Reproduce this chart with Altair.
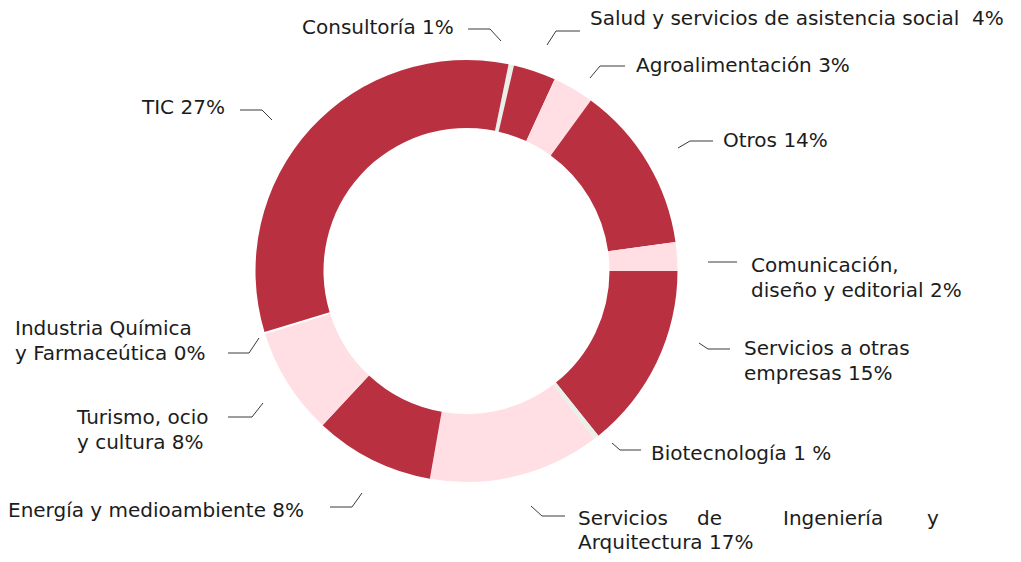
import math
import altair as alt
import pandas as pd

# ---- data ----
sectors = [
    "Consultoría", "Salud y servicios de asistencia social", "Agroalimentación",
    "Otros", "Comunicación, diseño y editorial", "Servicios a otras empresas",
    "Biotecnología", "Servicios de Ingeniería y Arquitectura",
    "Energía y medioambiente", "Turismo, ocio y cultura",
    "Industria Química y Farmaceútica", "TIC",
]
# angular share of each slice (degrees, as measured on the ring)
spans_deg = [1.5, 11.7, 11.4, 46.0, 7.9, 51.3, 1.4, 47.3, 33.0, 29.6, 0.6, 118.3]
label_texts = [
    "Consultoría 1%", "Salud y servicios de asistencia social\u00a0 4%",
    "Agroalimentación 3%", "Otros 14%", "Comunicación,\ndiseño y editorial 2%",
    "Servicios a otras\nempresas 15%", "Biotecnología 1 %",
    "Servicios|de|Ingeniería|y\nArquitectura 17%",
    "Energía y medioambiente 8%", "Turismo, ocio\ny cultura 8%",
    "Industria Química\ny Farmaceútica 0%", "TIC 27%",
]

# ---- styling / layout ----
DARK, PINK, MINT, WHITE = "#B93141", "#FFDFE4", "#E8F0E9", "#FFFFFF"
slice_colors = [MINT, DARK, PINK, DARK, PINK, DARK, MINT, PINK, DARK, PINK, WHITE, DARK]
START = math.radians(11.5)
CX, CY, R_OUT, R_IN = 466.5, 271, 211, 143
FONT, FSIZE, LH = "DejaVu Sans", 20, 25
W, H = 1005, 546

# label anchor (left x, first baseline y) in page pixels
label_pos = [
    (302, 34), (590, 25), (636, 72), (723, 147), (751, 272), (744, 355),
    (651, 460), (578, 525), (8, 517), (77, 424), (15, 335), (142, 114),
]
line_gap = [LH] * 7 + [24] + [LH] * 4
# justified first line of the Ingeniería label
justify_x = [578, 697, 783, 927]
leaders = [
    [(468, 29), (490, 29), (501, 41)],
    [(547, 45), (556, 31), (580, 31)],
    [(590, 78), (600, 66), (625, 66)],
    [(678, 148), (690, 141), (713, 141)],
    [(708, 262), (737, 262)],
    [(699, 343), (708, 349), (730, 349)],
    [(612, 443), (620, 450), (641, 450)],
    [(531, 506), (542, 516), (565, 516)],
    [(330, 507), (352, 507), (362, 493)],
    [(228, 417), (252, 417), (263, 403)],
    [(228, 353), (249, 353), (259, 338)],
    [(240, 110), (262, 110), (272, 120)],
]

arc_df = pd.DataFrame({"sector": sectors, "deg": spans_deg, "idx": range(len(sectors))})

txt_rows = []
for i, t in enumerate(label_texts):
    x0, y0 = label_pos[i]
    lines_ = t.split("\n")
    for j, ln in enumerate(lines_):
        yj = y0 + j * line_gap[i]
        if "|" in ln:
            for w, xw in zip(ln.split("|"), justify_x):
                txt_rows.append({"x": xw, "y": yj, "t": w})
        else:
            txt_rows.append({"x": x0, "y": yj, "t": ln})
txt_df = pd.DataFrame(txt_rows)

line_rows = []
for i, pts in enumerate(leaders):
    for k, (x, y) in enumerate(pts):
        line_rows.append({"id": i, "k": k, "x": x, "y": y})
line_df = pd.DataFrame(line_rows)

xs = alt.Scale(domain=[8, 8 + W], nice=False, zero=False)
ys = alt.Scale(domain=[8 + H, 8], nice=False, zero=False)

donut = alt.Chart(arc_df).mark_arc(outerRadius=R_OUT, innerRadius=R_IN, stroke=None).encode(
    theta=alt.Theta("deg:Q", stack=True, scale=alt.Scale(range=[START, START + 2 * math.pi])),
    order=alt.Order("idx:Q"),
    color=alt.Color("sector:N", scale=alt.Scale(domain=sectors, range=slice_colors), legend=None),
    x=alt.value(CX - 8),
    y=alt.value(CY - 8),
)

lines = alt.Chart(line_df).mark_line(color="#3a3a3a", strokeWidth=1).encode(
    x=alt.X("x:Q", scale=xs, axis=None),
    y=alt.Y("y:Q", scale=ys, axis=None),
    detail="id:N",
    order="k:Q",
)

texts = alt.Chart(txt_df).mark_text(
    align="left", baseline="alphabetic", font=FONT, fontSize=FSIZE,
    color="#1c1c1c",
).encode(
    x=alt.X("x:Q", scale=xs, axis=None),
    y=alt.Y("y:Q", scale=ys, axis=None),
    text="t:N",
)

chart = alt.layer(donut, lines, texts).properties(
    width=W, height=H, padding=0, autosize=alt.AutoSizeParams(type="none")
).configure_view(stroke=None)

chart.save("out.html", embed_options={"renderer": "svg", "actions": False})
